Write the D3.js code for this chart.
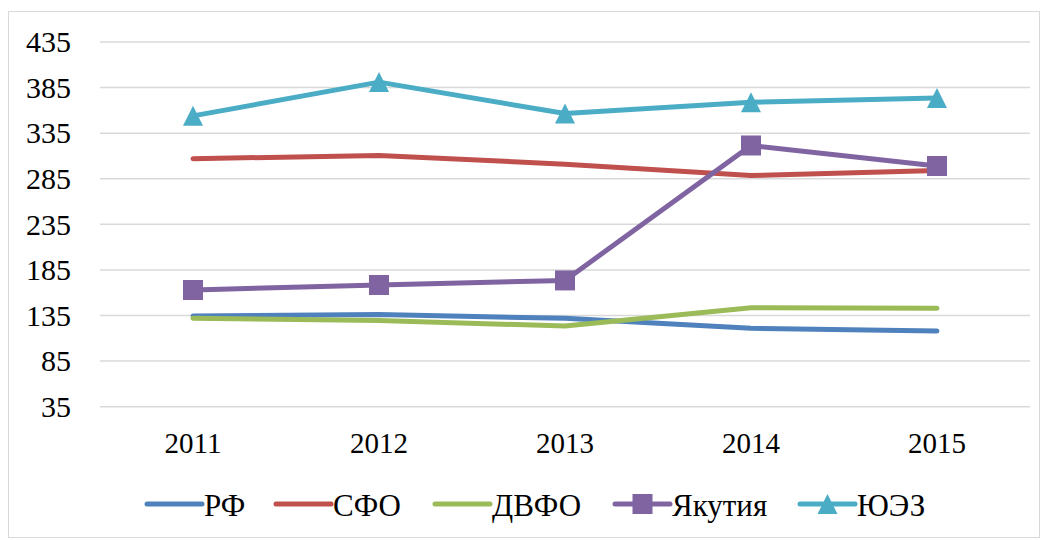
<!DOCTYPE html>
<html>
<head>
<meta charset="utf-8">
<script src="https://cdn.jsdelivr.net/npm/d3@7"></script>
</head>
<body style="margin:0">
<script>
// Data
var years = ["2011", "2012", "2013", "2014", "2015"];
var yTicks = [35, 85, 135, 185, 235, 285, 335, 385, 435];

var rf = [134.5, 136, 132, 121, 118];
var sfo = [307, 310.5, 301, 288.5, 294];
var dvfo = [132, 129.5, 123.5, 143.5, 143];
var yakutia = [163, 168.5, 173.5, 321.5, 299];
var yuez = [354, 391, 356.5, 369, 373.5];

var seriesNames = ["РФ", "СФО", "ДВФО", "Якутия", "ЮЭЗ"];
var seriesValues = [rf, sfo, dvfo, yakutia, yuez];
var seriesColors = ["#4f81bd", "#c0504d", "#9bbb59", "#8064a2", "#4bacc6"];
var seriesMarkers = [null, null, null, "square", "triangle"];

var FONT = "'Liberation Serif'";

// Chart
var W = 1047, H = 540;
var svg = d3.select("body").append("svg")
    .attr("width", W).attr("height", H)
    .style("font-family", FONT);

svg.append("rect")
    .attr("x", 8.5).attr("y", 11.5)
    .attr("width", 1031).attr("height", 526)
    .attr("fill", "white")
    .attr("stroke", "#d9d9d9")
    .attr("stroke-width", 1);

var x = d3.scaleBand().domain(years).range([100, 1030]).padding(0);
var y = d3.scaleLinear().domain([35, 435]).range([406.7, 42]);
var cx = function(d) { return x(d) + x.bandwidth() / 2; };

// gridlines
svg.append("g")
    .selectAll("line")
    .data(yTicks)
    .enter()
    .append("line")
    .attr("x1", 100).attr("x2", 1030)
    .attr("y1", function(d) { return y(d); })
    .attr("y2", function(d) { return y(d); })
    .attr("stroke", "#d9d9d9")
    .attr("stroke-width", 1.5);

// y tick labels
svg.append("g")
    .selectAll("text")
    .data(yTicks)
    .enter()
    .append("text")
    .attr("x", 71)
    .attr("y", function(d) { return y(d); })
    .attr("dy", "0.34em")
    .attr("text-anchor", "end")
    .attr("font-size", 30)
    .style("font-family", function() { return FONT; })
    .text(function(d) { return d; });

// x tick labels
svg.append("g")
    .selectAll("text")
    .data(years)
    .enter()
    .append("text")
    .attr("x", cx)
    .attr("y", 453)
    .attr("text-anchor", "middle")
    .attr("font-size", 29)
    .style("font-family", function() { return FONT; })
    .text(function(d) { return d; });

// lines
var line = d3.line()
    .x(function(d, i) { return cx(years[i]); })
    .y(function(d) { return y(d); });

function drawMarker(g, type, px, py, color, size) {
    if (type === "square") {
        g.append("rect")
            .attr("x", px - size / 2).attr("y", py - size / 2)
            .attr("width", size).attr("height", size)
            .attr("fill", color);
    } else if (type === "triangle") {
        var h = size;
        g.append("path")
            .attr("d", "M" + px + "," + (py - h / 2) +
                       "L" + (px + size / 2) + "," + (py + h / 2) +
                       "L" + (px - size / 2) + "," + (py + h / 2) + "Z")
            .attr("fill", color);
    }
}

seriesValues.forEach(function(vals, s) {
    var g = svg.append("g");
    g.append("path")
        .attr("d", line(vals))
        .attr("fill", "none")
        .attr("stroke", seriesColors[s])
        .attr("stroke-width", 5)
        .attr("stroke-linecap", "round")
        .attr("stroke-linejoin", "round");
    if (seriesMarkers[s]) {
        vals.forEach(function(v, i) {
            drawMarker(g, seriesMarkers[s], cx(years[i]), y(v), seriesColors[s], 20);
        });
    }
});

// legend
var legendX = [147, 276, 435, 615, 800];
var legendY = 504;
var lg = svg.append("g");
seriesNames.forEach(function(name, s) {
    var x0 = legendX[s];
    lg.append("line")
        .attr("x1", x0).attr("x2", x0 + 55)
        .attr("y1", legendY).attr("y2", legendY)
        .attr("stroke", seriesColors[s])
        .attr("stroke-width", 5)
        .attr("stroke-linecap", "round");
    if (seriesMarkers[s]) {
        drawMarker(lg, seriesMarkers[s], x0 + 27.5, legendY, seriesColors[s], 20);
    }
    lg.append("text")
        .attr("x", x0 + 57)
        .attr("y", legendY + 12)
        .attr("font-size", 31)
        .style("font-family", FONT)
        .text(name);
});
</script>
</body>
</html>
